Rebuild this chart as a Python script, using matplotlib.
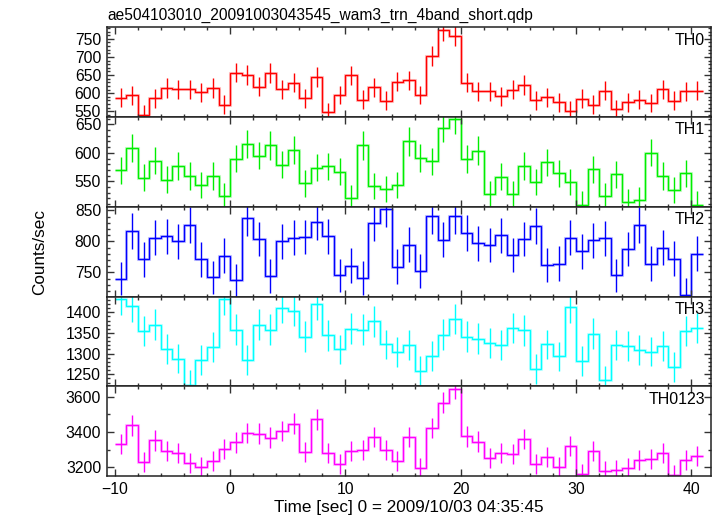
import numpy as np
import matplotlib
matplotlib.use("Agg")
import matplotlib.pyplot as plt
from matplotlib.ticker import MultipleLocator

plt.rcParams["font.family"] = ["Liberation Sans", "DejaVu Sans"]

TITLE = "ae504103010_20091003043545_wam3_trn_4band_short.qdp"
XLABEL = "Time [sec] 0 = 2009/10/03 04:35:45"
YLABEL = "Counts/sec"

# 1 s bins, -10 .. 41 s
BIN_EDGES = np.arange(-10, 42)
BIN_CENTERS = BIN_EDGES[:-1] + 0.5

TH0 = [587, 594, 541, 586, 614, 611, 611, 602, 614, 568, 657, 650, 618, 655, 611, 629, 586,
       644, 548, 595, 649, 582, 616, 579, 632, 635, 595, 702, 774, 759, 629, 605, 605, 591,
       609, 623, 580, 588, 575, 552, 585, 568, 607, 557, 575, 582, 573, 611, 579, 605, 607]
TH0_ERR = [26, 26, 25, 26, 27, 26, 26, 26, 27, 26, 27, 27, 27, 27, 26, 27, 26,
           27, 25, 26, 27, 26, 27, 26, 27, 27, 26, 28, 30, 29, 27, 26, 26, 26,
           26, 27, 26, 26, 26, 25, 26, 26, 26, 25, 26, 26, 26, 26, 26, 26, 26]

TH1 = [569, 608, 556, 586, 553, 577, 559, 543, 559, 524, 590, 616, 595, 613, 579, 605, 546,
       574, 576, 567, 520, 613, 542, 537, 543, 620, 591, 585, 644, 660, 589, 604, 528, 558,
       527, 577, 548, 583, 564, 548, 509, 571, 524, 562, 513, 517, 600, 559, 535, 564, 509]
TH1_ERR = [24, 25, 24, 24, 24, 24, 24, 23, 24, 23, 24, 25, 24, 25, 24, 25, 23,
           24, 24, 24, 23, 25, 23, 23, 23, 25, 24, 24, 25, 26, 24, 25, 23, 24,
           23, 24, 23, 24, 24, 23, 23, 24, 23, 24, 23, 23, 24, 24, 23, 24, 23]

TH2 = [740, 817, 771, 806, 808, 800, 826, 771, 742, 777, 737, 838, 804, 744, 800, 806, 807,
       831, 808, 745, 761, 741, 830, 853, 759, 795, 752, 841, 803, 841, 814, 797, 794, 810,
       778, 804, 825, 762, 764, 806, 784, 802, 805, 745, 788, 826, 764, 790, 772, 714, 780]
TH2_ERR = [27, 29, 28, 28, 28, 28, 29, 28, 27, 28, 27, 29, 28, 27, 28, 28, 28,
           29, 28, 27, 28, 27, 29, 29, 28, 28, 27, 29, 28, 29, 29, 28, 28, 28,
           28, 28, 29, 28, 28, 28, 28, 28, 28, 27, 28, 29, 28, 28, 28, 27, 28]

TH3 = [1432, 1414, 1355, 1370, 1312, 1288, 1225, 1285, 1316, 1431, 1358, 1285, 1370, 1358,
       1411, 1403, 1341, 1420, 1344, 1310, 1360, 1358, 1378, 1322, 1303, 1321, 1258, 1294,
       1346, 1384, 1341, 1336, 1326, 1320, 1362, 1356, 1262, 1322, 1293, 1412, 1283, 1348,
       1235, 1320, 1318, 1309, 1305, 1318, 1268, 1355, 1362]
TH3_ERR = [38, 38, 37, 37, 36, 36, 35, 36, 36, 38, 37, 36, 37, 37,
           38, 37, 37, 38, 37, 36, 37, 37, 37, 36, 36, 36, 35, 36,
           37, 37, 37, 37, 36, 36, 37, 37, 36, 36, 36, 38, 36, 37,
           35, 36, 36, 36, 36, 36, 36, 37, 37]

TH0123 = [3330, 3438, 3229, 3352, 3291, 3280, 3225, 3200, 3232, 3305, 3341, 3396, 3391, 3368,
          3404, 3448, 3286, 3472, 3280, 3219, 3291, 3295, 3371, 3295, 3236, 3371, 3196, 3423,
          3568, 3648, 3375, 3345, 3253, 3282, 3276, 3362, 3215, 3259, 3200, 3322, 3160, 3291,
          3177, 3185, 3196, 3240, 3244, 3282, 3156, 3238, 3261]
TH0123_ERR = [58, 59, 57, 58, 57, 57, 57, 57, 57, 57, 58, 58, 58, 58,
              58, 59, 57, 59, 57, 57, 57, 57, 58, 57, 57, 58, 57, 59,
              60, 60, 58, 58, 57, 57, 57, 58, 57, 57, 57, 58, 56, 57,
              56, 56, 57, 57, 57, 57, 56, 57, 57]

# name, values, errors, colour, y range, major/minor y tick step
PANELS = [
    ("TH0", TH0, TH0_ERR, "#ff0000", (534, 782), 50, 10),
    ("TH1", TH1, TH1_ERR, "#00ee00", (505, 663), 50, 10),
    ("TH2", TH2, TH2_ERR, "#0000ff", (711, 856), 50, 10),
    ("TH3", TH3, TH3_ERR, "#00ffff", (1221, 1438), 50, 10),
    ("TH0123", TH0123, TH0123_ERR, "#ff00ff", (3149, 3661), 200, 100),
]

fig = plt.figure(figsize=(7.17, 5.16), dpi=100)

left, right = 106.7 / 717, 711 / 717
top, bottom = 1 - 27.3 / 516, 1 - 476 / 516
h = (top - bottom) / len(PANELS)

axes = []
for i, (name, vals, errs, color, ylim, major, minor) in enumerate(PANELS):
    ax = fig.add_axes([left, top - (i + 1) * h, right - left, h])
    axes.append(ax)

    # faint halo under the step line, like the original rendering
    ax.stairs(vals, BIN_EDGES, baseline=None, color=color, linewidth=2.2, alpha=0.22)
    ax.stairs(vals, BIN_EDGES, baseline=None, color=color, linewidth=1.0)
    ax.errorbar(BIN_CENTERS, vals, yerr=errs, fmt="none", ecolor=color, elinewidth=1.0)

    ax.set_xlim(-10.7, 41.7)
    ax.set_ylim(*ylim)
    ax.xaxis.set_major_locator(MultipleLocator(10))
    ax.xaxis.set_minor_locator(MultipleLocator(2))
    ax.yaxis.set_major_locator(MultipleLocator(major))
    ax.yaxis.set_minor_locator(MultipleLocator(minor))
    ax.tick_params(which="both", direction="in", top=True, right=True,
                   labelsize=11.3, color="#333333", width=1.0, pad=4)
    ax.tick_params(which="major", length=4.7)
    ax.tick_params(which="minor", length=2.4)
    for sp in ax.spines.values():
        sp.set_linewidth(1.1)
        sp.set_color("#222222")
    if i < len(PANELS) - 1:
        ax.tick_params(labelbottom=False)

    ax.text(0.99, 0.94, name, transform=ax.transAxes, ha="right", va="top", fontsize=11.5)

axes[-1].set_xlabel(XLABEL, fontsize=12.3, labelpad=2.5)
fig.text(107 / 717, 1 - 19.5 / 516, TITLE, fontsize=11.2, ha="left", va="baseline")
fig.text(40 / 717, (top + bottom) / 2, YLABEL, rotation=90, fontsize=12.3,
         ha="center", va="center")

fig.savefig("out.png", dpi=100)
